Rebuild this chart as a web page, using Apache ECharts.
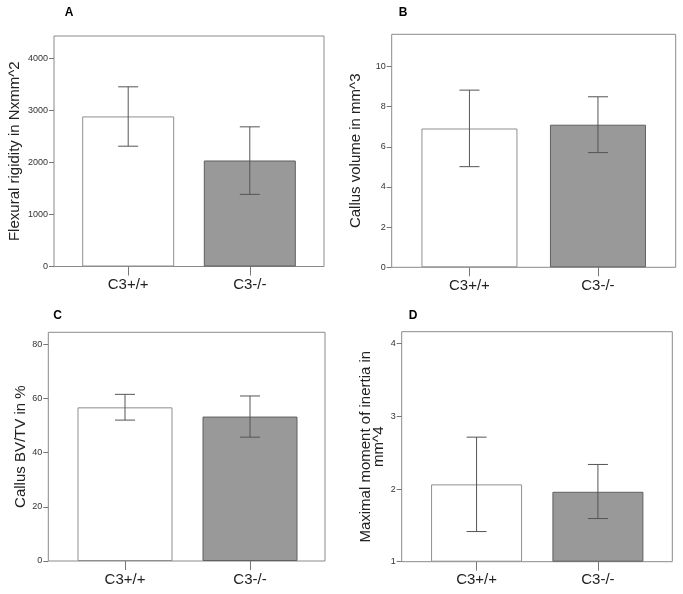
<!DOCTYPE html>
<html>
<head>
<meta charset="utf-8">
<script src="https://cdn.jsdelivr.net/npm/echarts@6/dist/echarts.min.js"></script>
<style>
html,body{margin:0;padding:0;background:#fff;}
#chart{width:683px;height:594px;}
</style>
</head>
<body>
<div id="chart"></div>
<script>
// ---- data ----
const categories = ['C3+/+', 'C3-/-'];

const flexMean = [2888, 2040];
const flexLow  = [2315, 1388];
const flexHigh = [3458, 2688];
const flexTicks = [0, 1000, 2000, 3000, 4000];

const volMean = [6.91, 7.10];
const volLow  = [5.01, 5.71];
const volHigh = [8.82, 8.49];
const volTicks = [0, 2, 4, 6, 8, 10];

const bvtvMean = [56.7, 53.3];
const bvtvLow  = [52.0, 45.7];
const bvtvHigh = [61.5, 60.9];
const bvtvTicks = [0, 20, 40, 60, 80];

const momMean = [2.064, 1.962];
const momLow  = [1.415, 1.594];
const momHigh = [2.714, 2.338];
const momTicks = [1, 2, 3, 4];

const panelLetters = ['A', 'B', 'C', 'D'];
const yNames = ['Flexural rigidity in Nxmm^2', 'Callus volume in mm^3', 'Callus BV/TV in %', 'Maximal moment of inertia in\nmm^4'];

// ---- layout/style ----
const FONT = '"Liberation Sans", Arial, sans-serif';
const frameColor = '#8a8a8a';
const barFill = ['#ffffff', '#999999'];
const barBorder = ['#8f8f8f', '#606060'];
const errColor = '#555555';

const panels = [
  {mean: flexMean, low: flexLow, high: flexHigh, ticks: flexTicks, ymin: 0, ymax: 4436,
   grid: {left: 54, top: 36, width: 270, height: 230.5}, xmin: -0.61, xmax: 1.61, barW: 92, nameGap: 33},
  {mean: volMean, low: volLow, high: volHigh, ticks: volTicks, ymin: 0, ymax: 11.6,
   grid: {left: 391.7, top: 34.3, width: 284, height: 233}, xmin: -0.605, xmax: 1.605, barW: 96, nameGap: 29},
  {mean: bvtvMean, low: bvtvLow, high: bvtvHigh, ticks: bvtvTicks, ymin: 0, ymax: 84.4,
   grid: {left: 48.3, top: 332.3, width: 276.7, height: 228.7}, xmin: -0.6136, xmax: 1.6, barW: 95, nameGap: 21},
  {mean: momMean, low: momLow, high: momHigh, ticks: momTicks, ymin: 1, ymax: 4.165,
   grid: {left: 401.7, top: 331.7, width: 270.6, height: 230}, xmin: -0.617, xmax: 1.613, barW: 91, nameGap: 16}
];
const letterPos = [[69, 13], [403, 13], [57.5, 315.5], [413, 315.5]];

const grids = [], xAxes = [], yAxes = [], series = [];
panels.forEach((p, i) => {
  grids.push(Object.assign({show: true, borderColor: frameColor, borderWidth: 1, backgroundColor: 'transparent'}, p.grid));
  xAxes.push({
    type: 'value', gridIndex: i, min: p.xmin, max: p.xmax, position: 'bottom',
    axisLine: {show: false, onZero: false},
    splitLine: {show: false},
    axisTick: {show: true, length: 9, lineStyle: {color: '#777'}, customValues: [0, 1]},
    axisLabel: {customValues: [0, 1], margin: 11, fontSize: 15, color: '#222', fontFamily: FONT,
                formatter: v => categories[Math.round(v)] || ''}
  });
  yAxes.push({
    type: 'value', gridIndex: i, min: p.ymin, max: p.ymax, startValue: p.ymin, position: 'left',
    name: yNames[i], nameLocation: 'middle', nameRotate: 90, nameGap: p.nameGap,
    nameTextStyle: {fontSize: 15, color: '#222', fontFamily: FONT, lineHeight: 13, align: 'center'},
    axisLine: {show: false, onZero: false},
    splitLine: {show: false},
    axisTick: {show: true, length: 5, lineStyle: {color: '#777'}, customValues: p.ticks},
    axisLabel: {customValues: p.ticks, margin: 6, fontSize: 9, color: '#333', fontFamily: FONT,
                formatter: v => String(v)}
  });
  series.push({
    type: 'bar', xAxisIndex: i, yAxisIndex: i, barWidth: p.barW,
    data: p.mean.map((m, k) => ({value: [k, m], itemStyle: {color: barFill[k], borderColor: barBorder[k], borderWidth: 1}})),
    z: 2
  });
  series.push({
    type: 'custom', xAxisIndex: i, yAxisIndex: i, z: 5,
    data: p.mean.map((m, k) => [k, p.low[k], p.high[k]]),
    encode: {x: 0, y: [1, 2]},
    renderItem: (params, api) => {
      const x = api.value(0);
      const lo = api.coord([x, api.value(1)]);
      const hi = api.coord([x, api.value(2)]);
      const hw = 10;
      const st = {stroke: errColor, lineWidth: 1};
      return {type: 'group', children: [
        {type: 'line', shape: {x1: lo[0], y1: lo[1], x2: hi[0], y2: hi[1]}, style: st},
        {type: 'line', shape: {x1: lo[0] - hw, y1: lo[1], x2: lo[0] + hw, y2: lo[1]}, style: st},
        {type: 'line', shape: {x1: hi[0] - hw, y1: hi[1], x2: hi[0] + hw, y2: hi[1]}, style: st}
      ]};
    }
  });
});

const graphics = panelLetters.map((t, i) => ({
  type: 'text', x: letterPos[i][0], y: letterPos[i][1],
  style: {text: t, fontSize: 12, fontWeight: 'bold', fill: '#000', font: 'bold 12px ' + FONT, textAlign: 'center', textVerticalAlign: 'middle'}
}));

const chart = echarts.init(document.getElementById('chart'), null, {renderer: 'canvas'});
chart.setOption({
  animation: false,
  backgroundColor: '#fff',
  grid: grids, xAxis: xAxes, yAxis: yAxes, series: series,
  graphic: graphics
});
</script>
</body>
</html>
